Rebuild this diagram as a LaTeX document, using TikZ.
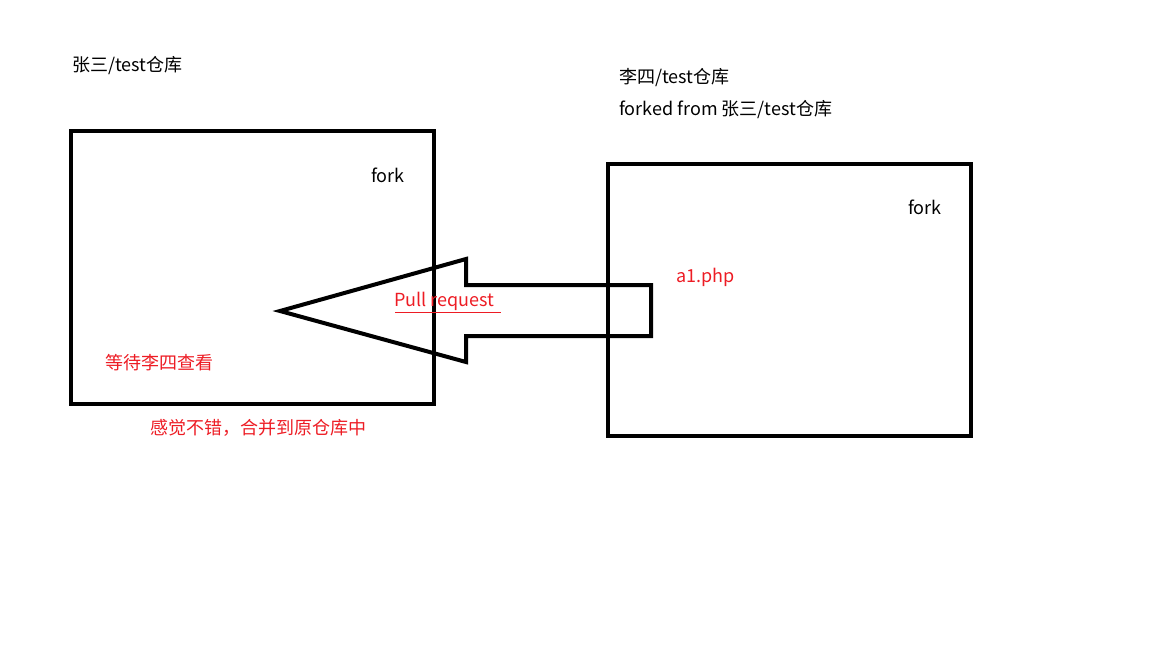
\documentclass[tikz,border=0pt]{standalone}
\usepackage{fontspec}
\setmainfont{Noto Sans CJK SC}
\definecolor{pred}{RGB}{237,28,36}
\begin{document}
\begin{tikzpicture}[x=1pt,y=-1pt,
  box/.style={draw=black,line width=4pt},
  lbl/.style={anchor=west,inner sep=0pt,font=\fontsize{18}{21}\selectfont},
  rlbl/.style={lbl,text=pred}]
\useasboundingbox (0,0) rectangle (1152,648);
\draw[box] (71,131) rectangle (434,404);
\draw[box] (608,164) rectangle (971,436);
\coordinate (tip) at (280,311);
\draw[line width=4pt,line join=miter] (tip) -- (466,259) -- (466,285) -- (651,285) -- (651,336) -- (466,336) -- (466,362) -- cycle;
\node[lbl] (t1) at (72,66) {张三/test仓库};
\node[lbl] (t2) at (619,78) {李四/test仓库};
\node[lbl] (t3) at (619,110) {forked from 张三/test仓库};
\node[lbl] (f1) at (371,175) {fork};
\node[lbl] (f2) at (908,207) {fork};
\node[rlbl] (a1) at (676,277) {a1.php};
\node[rlbl] (pr) at (394,301) {Pull request};
\draw[pred,line width=1pt] (395,312.5) -- (501,312.5);
\node[rlbl] (w) at (105,363) {等待李四查看};
\node[rlbl] (m) at (150,428) {感觉不错，合并到原仓库中};
\end{tikzpicture}
\end{document}
